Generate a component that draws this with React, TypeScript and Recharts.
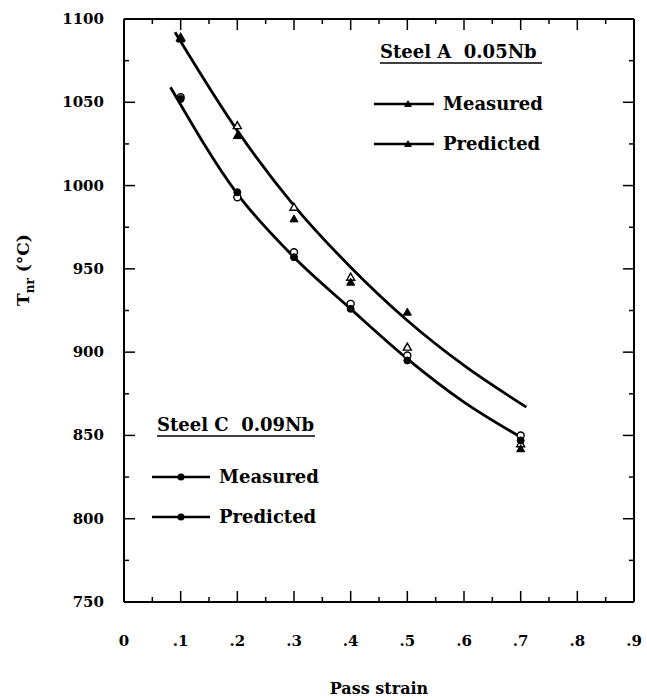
import { ComposedChart, Line, Scatter, XAxis, YAxis } from "recharts";

const FONT = "'DejaVu Serif', serif";

// strain ticks (major every .1, minor every .05)
const strainTicks = [0, 0.05, 0.1, 0.15, 0.2, 0.25, 0.3, 0.35, 0.4, 0.45, 0.5, 0.55, 0.6, 0.65, 0.7, 0.75, 0.8, 0.85, 0.9];
const tempTicks = [750, 775, 800, 825, 850, 875, 900, 925, 950, 975, 1000, 1025, 1050, 1075, 1100];

// Steel A 0.05Nb
const steelAMeasured = [
  { strain: 0.1, temp: 1089 },
  { strain: 0.2, temp: 1036 },
  { strain: 0.3, temp: 987 },
  { strain: 0.4, temp: 945 },
  { strain: 0.5, temp: 903 },
  { strain: 0.7, temp: 845 },
];
const steelAPredicted = [
  { strain: 0.1, temp: 1088 },
  { strain: 0.2, temp: 1030 },
  { strain: 0.3, temp: 980 },
  { strain: 0.4, temp: 942 },
  { strain: 0.5, temp: 924 },
  { strain: 0.7, temp: 842 },
];
const steelACurve = [
  { strain: 0.09, temp: 1092 },
  { strain: 0.2, temp: 1033 },
  { strain: 0.3, temp: 988 },
  { strain: 0.4, temp: 951 },
  { strain: 0.5, temp: 919 },
  { strain: 0.6, temp: 892 },
  { strain: 0.71, temp: 867 },
];

// Steel C 0.09Nb
const steelCMeasured = [
  { strain: 0.1, temp: 1053 },
  { strain: 0.2, temp: 993 },
  { strain: 0.3, temp: 960 },
  { strain: 0.4, temp: 929 },
  { strain: 0.5, temp: 898 },
  { strain: 0.7, temp: 850 },
];
const steelCPredicted = [
  { strain: 0.1, temp: 1052 },
  { strain: 0.2, temp: 996 },
  { strain: 0.3, temp: 957 },
  { strain: 0.4, temp: 926 },
  { strain: 0.5, temp: 895 },
  { strain: 0.7, temp: 847 },
];
const steelCCurve = [
  { strain: 0.082, temp: 1059 },
  { strain: 0.2, temp: 995 },
  { strain: 0.3, temp: 957 },
  { strain: 0.4, temp: 926 },
  { strain: 0.5, temp: 896 },
  { strain: 0.6, temp: 870 },
  { strain: 0.7, temp: 849 },
];

const majorStrain = (v: number) => Math.round(v * 100) % 10 === 0;
const majorTemp = (v: number) => v % 50 === 0;
const strainLabel = (v: number) => (v === 0 ? "0" : "." + Math.round(v * 10));

function BottomTick({ x, y, payload }: any) {
  const major = majorStrain(payload.value);
  return (
    <g>
      <line x1={x} y1={y} x2={x} y2={y - (major ? 11 : 5)} stroke="#000" strokeWidth={1.5} />
      {major && (
        <text x={x} y={y + 44} textAnchor="middle" fontFamily={FONT} fontWeight="bold" fontSize={15} fill="#000">
          {strainLabel(payload.value)}
        </text>
      )}
    </g>
  );
}

function TopTick({ x, y, payload }: any) {
  const major = majorStrain(payload.value);
  return <line x1={x} y1={y} x2={x} y2={y + (major ? 11 : 5)} stroke="#000" strokeWidth={1.5} />;
}

function LeftTick({ x, y, payload }: any) {
  const major = majorTemp(payload.value);
  return (
    <g>
      <line x1={x} y1={y} x2={x + (major ? 11 : 5)} y2={y} stroke="#000" strokeWidth={1.5} />
      {major && (
        <text x={x - 20} y={y + 5} textAnchor="end" fontFamily={FONT} fontWeight="bold" fontSize={15} fill="#000">
          {payload.value}
        </text>
      )}
    </g>
  );
}

function RightTick({ x, y, payload }: any) {
  const major = majorTemp(payload.value);
  return <line x1={x} y1={y} x2={x - (major ? 11 : 5)} y2={y} stroke="#000" strokeWidth={1.5} />;
}

const triPoints = (cx: number, cy: number) => `${cx},${cy - 4} ${cx - 4},${cy + 3} ${cx + 4},${cy + 3}`;

const OpenTriangle = ({ cx, cy }: any) => (
  <polygon points={triPoints(cx, cy)} fill="#fff" stroke="#000" strokeWidth={1.4} />
);
const FilledTriangle = ({ cx, cy }: any) => <polygon points={triPoints(cx, cy)} fill="#000" stroke="#000" strokeWidth={1} />;
const OpenCircle = ({ cx, cy }: any) => <circle cx={cx} cy={cy} r={3.5} fill="#fff" stroke="#000" strokeWidth={1.4} />;
const FilledCircle = ({ cx, cy }: any) => <circle cx={cx} cy={cy} r={3.5} fill="#000" stroke="#000" strokeWidth={1} />;
const NoMark = () => <g />;

function LegendBlock({ x, y, title, titleWidth, lineX1, lineX2, markerX, textX, marker }: any) {
  const rows = ["Measured", "Predicted"];
  const rowY = [y + 46, y + 86];
  return (
    <g fontFamily={FONT} fontWeight="bold" fill="#000">
      <text x={x} y={y} fontSize={18} style={{ whiteSpace: "pre" }}>
        {title}
      </text>
      <line x1={x} y1={y + 5} x2={x + titleWidth} y2={y + 5} stroke="#000" strokeWidth={1.5} />
      {rows.map((r, i) => (
        <g key={r}>
          <line x1={lineX1} y1={rowY[i]} x2={lineX2} y2={rowY[i]} stroke="#000" strokeWidth={2.5} />
          {marker === "tri" ? (
            <polygon points={triPoints(markerX, rowY[i])} fill="#000" />
          ) : (
            <circle cx={markerX} cy={rowY[i]} r={3.5} fill="#000" />
          )}
          <text x={textX} y={rowY[i] + 6} fontSize={18}>
            {r}
          </text>
        </g>
      ))}
    </g>
  );
}

export default function App() {
  return (
    <div style={{ position: "absolute", left: 0, top: 0, width: 647, height: 700, background: "#fff" }}>
      <ComposedChart width={647} height={700} margin={{ top: 18, right: 12, bottom: 0, left: 0 }}>
        <XAxis
          xAxisId="bottom"
          dataKey="strain"
          type="number"
          domain={[0, 0.9]}
          ticks={strainTicks}
          height={98}
          tickSize={0}
          tickMargin={0}
          tickLine={false}
          axisLine={{ stroke: "#000", strokeWidth: 2 }}
          tick={<BottomTick />}
          interval={0}
        />
        <XAxis
          xAxisId="top"
          dataKey="strain"
          orientation="top"
          type="number"
          domain={[0, 0.9]}
          ticks={strainTicks}
          height={1}
          tickSize={0}
          tickMargin={0}
          tickLine={false}
          axisLine={{ stroke: "#000", strokeWidth: 2 }}
          tick={<TopTick />}
          interval={0}
        />
        <YAxis
          yAxisId="left"
          dataKey="temp"
          type="number"
          domain={[750, 1100]}
          ticks={tempTicks}
          width={124}
          tickSize={0}
          tickMargin={0}
          tickLine={false}
          axisLine={{ stroke: "#000", strokeWidth: 2 }}
          tick={<LeftTick />}
          interval={0}
        />
        <YAxis
          yAxisId="right"
          dataKey="temp"
          orientation="right"
          type="number"
          domain={[750, 1100]}
          ticks={tempTicks}
          width={1}
          tickSize={0}
          tickMargin={0}
          tickLine={false}
          axisLine={{ stroke: "#000", strokeWidth: 2 }}
          tick={<RightTick />}
          interval={0}
        />
        <Line
          xAxisId="bottom"
          yAxisId="left"
          data={steelACurve}
          dataKey="temp"
          type="monotone"
          stroke="#000"
          strokeWidth={2.8}
          dot={false}
          isAnimationActive={false}
        />
        <Line
          xAxisId="bottom"
          yAxisId="left"
          data={steelCCurve}
          dataKey="temp"
          type="monotone"
          stroke="#000"
          strokeWidth={2.8}
          dot={false}
          isAnimationActive={false}
        />
        <Scatter xAxisId="bottom" yAxisId="left" data={steelAMeasured} dataKey="temp" shape={OpenTriangle} isAnimationActive={false} />
        <Scatter xAxisId="bottom" yAxisId="left" data={steelAPredicted} dataKey="temp" shape={FilledTriangle} isAnimationActive={false} />
        <Scatter xAxisId="bottom" yAxisId="left" data={steelCMeasured} dataKey="temp" shape={OpenCircle} isAnimationActive={false} />
        <Scatter xAxisId="bottom" yAxisId="left" data={steelCPredicted} dataKey="temp" shape={FilledCircle} isAnimationActive={false} />
        {/* hidden series so the top / right frame axes get drawn */}
        <Scatter xAxisId="top" yAxisId="right" data={steelAMeasured} dataKey="temp" shape={NoMark} isAnimationActive={false} />
      </ComposedChart>
      <svg width={647} height={700} style={{ position: "absolute", left: 0, top: 0, pointerEvents: "none" }}>
        <LegendBlock
          x={380}
          y={58}
          title={"Steel A  0.05Nb"}
          titleWidth={162}
          lineX1={374}
          lineX2={434}
          markerX={408}
          textX={443}
          marker="tri"
        />
        <LegendBlock
          x={157}
          y={431}
          title={"Steel C  0.09Nb"}
          titleWidth={158}
          lineX1={152}
          lineX2={210}
          markerX={181}
          textX={219}
          marker="circle"
        />
        <text
          x={23}
          y={270}
          transform="rotate(-90 23 270)"
          textAnchor="middle"
          dominantBaseline="central"
          fontFamily={FONT}
          fontWeight="bold"
          fontSize={17}
          fill="#000"
        >
          T
          <tspan fontSize={12} baselineShift="sub">
            nr
          </tspan>
          <tspan> (°C)</tspan>
        </text>
        <text x={379} y={694} textAnchor="middle" fontFamily={FONT} fontWeight="bold" fontSize={16} fill="#000">
          Pass strain
        </text>
      </svg>
    </div>
  );
}
